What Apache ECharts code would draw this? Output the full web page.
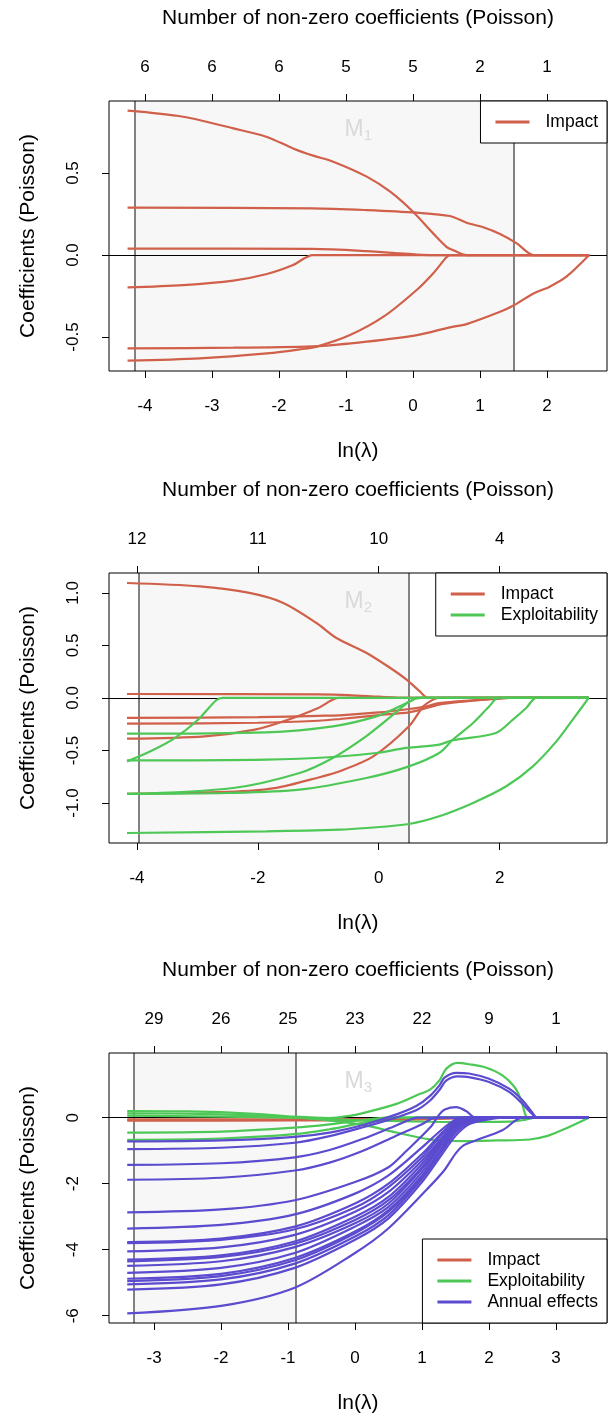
<!DOCTYPE html>
<html>
<head>
<meta charset="utf-8">
<script src="https://cdn.jsdelivr.net/npm/echarts@6/dist/echarts.min.js"></script>
<style>
  html, body { margin: 0; padding: 0; background: #fff; }
  #main { width: 613px; height: 1413px; }
</style>
</head>
<body>
<div id="main"></div>
<script>
const RED = '#d0604a'
const GREEN = '#4dc856'
const PURPLE = '#5b4bcf'
const FONT = '"Liberation Sans", Arial, Helvetica, sans-serif'

// panel 1 (M1) - glmnet paths, [ln(lambda), coefficient]
const xTicks1 = [-4, -3, -2, -1, 0, 1, 2]
const nonZero1 = ['6', '6', '6', '5', '5', '2', '1']
const yTicks1 = [-0.5, 0, 0.5]
const cut1 = [-4.16, 1.51]
const impact1 = [
  [[-4.26,0.88],[-3.43,0.843],[-2.68,0.772],[-2.18,0.72],[-1.79,0.65],[-1.49,0.606],[-1.19,0.569],[-0.69,0.478],[-0.34,0.386],[0.0,0.264],[0.30,0.132],[0.50,0.05],[0.60,0.03],[0.80,0],[2.63,0]],
  [[-4.26,0.289],[-1.5,0.285],[-0.69,0.274],[0.06,0.258],[0.55,0.238],[0.80,0.197],[1.05,0.169],[1.30,0.128],[1.55,0.071],[1.80,0],[2.63,0]],
  [[-4.26,0.039],[-1.5,0.037],[-0.69,0.024],[-0.2,0.01],[0.06,0.003],[0.3,0],[2.63,0]],
  [[-4.26,-0.197],[-3.43,-0.183],[-2.68,-0.156],[-2.18,-0.116],[-1.79,-0.061],[-1.49,0],[2.63,0]],
  [[-4.26,-0.569],[-2.68,-0.565],[-1.41,-0.555],[-0.69,-0.528],[0.06,-0.488],[0.55,-0.441],[0.80,-0.421],[1.30,-0.346],[1.50,-0.308],[1.80,-0.234],[2.04,-0.193],[2.29,-0.132],[2.63,0]],
  [[-4.26,-0.644],[-3.18,-0.63],[-2.18,-0.6],[-1.69,-0.575],[-1.41,-0.555],[-0.94,-0.488],[-0.44,-0.376],[0.055,-0.213],[0.30,-0.112],[0.50,-0.014],[0.55,0],[2.63,0]]
]

// panel 2 (M2)
const xTicks2 = [-4, -2, 0, 2]
const nonZero2 = ['12', '11', '10', '4']
const yTicks2 = [-1, -0.5, 0, 0.5, 1]
const cut2 = [-3.97, 0.50]
const impact2 = [
  [[-4.165,1.095],[-2.96,1.063],[-2.14,1.0],[-1.58,0.905],[-1.03,0.714],[-0.70,0.571],[-0.20,0.429],[0.18,0.29],[0.46,0.175],[0.68,0.063],[0.82,0],[3.474,0]],
  [[-4.165,0.038],[-1.0,0.034],[-0.5,0.028],[0,0.012],[0.45,0],[3.474,0]],
  [[-4.165,-0.19],[-2,-0.182],[-1,-0.17],[-0.644,-0.165],[0,-0.138],[0.5,-0.105],[0.79,-0.08],[1.0,-0.048],[1.56,-0.022],[1.94,-0.01],[2.17,0],[3.474,0]],
  [[-4.165,-0.245],[-2,-0.236],[-1,-0.217],[-0.644,-0.2],[0,-0.163],[0.5,-0.137],[0.74,-0.105],[1.0,-0.063],[1.44,-0.032],[1.88,-0.006],[2.0,0],[3.474,0]],
  [[-4.165,-0.388],[-2.88,-0.366],[-2.05,-0.302],[-1.5,-0.207],[-1.0,-0.095],[-0.66,0],[3.474,0]],
  [[-4.165,-0.914],[-2.5,-0.895],[-1.72,-0.859],[-0.95,-0.75],[-0.644,-0.698],[-0.09,-0.556],[0.5,-0.27],[0.74,-0.079],[0.9,-0.016],[0.98,0],[3.474,0]]
]
const exploit2 = [
  [[-4.165,-0.604],[-3.75,-0.5],[-3.376,-0.382],[-2.99,-0.207],[-2.69,-0.022],[-2.58,0],[3.474,0]],
  [[-4.165,-0.34],[-1.86,-0.327],[-0.76,-0.27],[-0.04,-0.175],[0.35,-0.079],[0.57,-0.016],[0.62,0],[3.474,0]],
  [[-4.165,-0.595],[-1.86,-0.587],[-0.76,-0.562],[-0.04,-0.524],[0.46,-0.476],[1.0,-0.444],[1.22,-0.403],[1.94,-0.333],[2.22,-0.206],[2.44,-0.095],[2.61,0],[3.474,0]],
  [[-4.165,-0.914],[-2.41,-0.857],[-1.31,-0.714],[-0.76,-0.571],[-0.21,-0.365],[0.24,-0.159],[0.51,-0.032],[0.7,0],[3.474,0]],
  [[-4.165,-0.914],[-2.5,-0.905],[-1.31,-0.873],[-0.205,-0.762],[0.5,-0.651],[1.0,-0.524],[1.22,-0.4],[1.56,-0.238],[1.83,-0.079],[1.98,0],[3.474,0]],
  [[-4.165,-1.286],[-1.86,-1.27],[-0.644,-1.254],[-0.205,-1.238],[0.5,-1.2],[1.0,-1.127],[1.56,-1.0],[2.11,-0.841],[2.55,-0.651],[2.94,-0.413],[3.21,-0.206],[3.474,0]]
]

// panel 3 (M3)
const xTicks3 = [-3, -2, -1, 0, 1, 2, 3]
const nonZero3 = ['29', '26', '25', '23', '22', '9', '1']
const yTicks3 = [-6, -4, -2, 0]
const cut3 = [-3.30, -0.886]
const impact3 = [
  [[-3.4,-0.05],[-0.9,-0.05],[0,-0.045],[1,-0.035],[1.5,-0.02],[1.7,0],[3.49,0]],
  [[-3.4,-0.09],[-0.9,-0.085],[0,-0.075],[0.8,-0.06],[1.3,-0.03],[1.6,0],[3.49,0]]
]
const exploit3 = [
  [[-3.4,0.2],[-2.5,0.19],[-1.5,0.12],[-0.9,0.03],[-0.38,-0.01],[-0.1,0.05],[0.12,0.14],[0.62,0.42],[0.92,0.68],[1.12,0.85],[1.26,1.13],[1.36,1.48],[1.53,1.66],[1.7,1.62],[1.95,1.52],[2.2,1.28],[2.38,0.93],[2.48,0.53],[2.53,0.17],[2.58,0],[3.49,0]],
  [[-3.4,0.13],[-2.5,0.12],[-1.5,0.07],[-0.9,0.01],[-0.38,-0.08],[0.12,-0.22],[0.62,-0.45],[1.12,-0.66],[1.61,-0.71],[2.11,-0.69],[2.61,-0.66],[2.86,-0.56],[3.11,-0.36],[3.49,0]],
  [[-3.4,0.06],[-0.9,0.0],[-0.38,-0.05],[0.5,-0.1],[1.5,-0.13],[2.3,-0.12],[2.55,-0.06],[2.7,0],[3.49,0]],
  [[-3.4,-0.45],[-2,-0.42],[-0.9,-0.3],[-0.38,-0.2],[0,-0.1],[0.3,-0.03],[0.45,0],[3.49,0]],
  [[-3.4,-0.67],[-2,-0.63],[-0.9,-0.5],[-0.38,-0.35],[0,-0.2],[0.3,-0.08],[0.5,0],[3.49,0]]
]
const annual3 = [
  [[-3.4,-0.72],[-2,-0.69],[-0.9,-0.58],[-0.38,-0.45],[0.12,-0.22],[0.62,0.1],[0.92,0.36],[1.12,0.66],[1.26,0.98],[1.34,1.22],[1.51,1.36],[1.7,1.34],[2.0,1.18],[2.3,0.88],[2.5,0.53],[2.64,0.17],[2.72,0],[3.49,0]],
  [[-3.4,-0.95],[-2,-0.91],[-0.9,-0.76],[-0.38,-0.56],[0.12,-0.29],[0.62,0.01],[0.92,0.23],[1.12,0.52],[1.26,0.84],[1.36,1.12],[1.53,1.25],[1.7,1.23],[2.0,1.08],[2.3,0.78],[2.5,0.42],[2.64,0.12],[2.72,0],[3.49,0]],
  [[-3.4,-1.43],[-2,-1.38],[-0.9,-1.2],[-0.38,-0.98],[0.12,-0.64],[0.5,-0.33],[0.8,-0.08],[0.92,0],[3.49,0]],
  [[-3.4,-1.88],[-2,-1.82],[-0.9,-1.6],[-0.38,-1.36],[0.12,-1.0],[0.6,-0.56],[1.0,-0.2],[1.2,0],[3.49,0]],
  [[-3.4,-2.87],[-2,-2.78],[-0.9,-2.5],[0,-1.95],[0.5,-1.5],[0.77,-1.0],[1.12,-0.3],[1.26,0.1],[1.34,0.25],[1.51,0.32],[1.66,0.2],[1.8,0],[3.49,0]],
  [[-3.4,-3.36],[-2,-3.25],[-0.9,-2.93],[0,-2.3],[0.5,-1.75],[1.0,-0.9],[1.3,-0.35],[1.5,-0.05],[1.6,0],[3.49,0]],
  [[-3.4,-3.77],[-2,-3.66],[-0.9,-3.3],[0,-2.6],[0.5,-2.0],[1.0,-1.1],[1.3,-0.45],[1.5,-0.1],[1.65,0],[3.49,0]],
  [[-3.4,-3.8],[-2,-3.7],[-0.9,-3.38],[0,-2.72],[0.5,-2.1],[1.0,-1.2],[1.3,-0.5],[1.5,-0.12],[1.7,0],[3.49,0]],
  [[-3.4,-4.05],[-2,-3.93],[-0.9,-3.55],[0,-2.85],[0.5,-2.25],[1.0,-1.3],[1.3,-0.6],[1.5,-0.15],[1.75,0],[3.49,0]],
  [[-3.4,-4.3],[-2,-4.17],[-0.9,-3.75],[0,-3.0],[0.5,-2.4],[1.0,-1.4],[1.3,-0.65],[1.5,-0.2],[1.8,0],[3.49,0]],
  [[-3.4,-4.35],[-2,-4.22],[-0.9,-3.82],[0,-3.1],[0.5,-2.5],[1.0,-1.5],[1.3,-0.7],[1.5,-0.25],[1.85,0],[3.49,0]],
  [[-3.4,-4.49],[-2,-4.35],[-0.9,-3.92],[0,-3.2],[0.5,-2.6],[1.0,-1.55],[1.3,-0.75],[1.5,-0.28],[1.9,0],[3.49,0]],
  [[-3.4,-4.7],[-2,-4.55],[-0.9,-4.1],[0,-3.3],[0.5,-2.7],[1.0,-1.65],[1.3,-0.8],[1.5,-0.3],[1.95,0],[3.49,0]],
  [[-3.4,-4.88],[-2,-4.73],[-0.9,-4.25],[0,-3.45],[0.5,-2.8],[1.0,-1.75],[1.3,-0.9],[1.5,-0.35],[2.0,0],[3.49,0]],
  [[-3.4,-4.95],[-2,-4.8],[-0.9,-4.32],[0,-3.5],[0.5,-2.85],[1.0,-1.8],[1.3,-0.95],[1.5,-0.4],[1.7,-0.1],[2.05,0],[3.49,0]],
  [[-3.4,-5.05],[-2,-4.9],[-0.9,-4.42],[0,-3.6],[0.5,-2.95],[1.0,-1.85],[1.3,-1.0],[1.5,-0.45],[1.7,-0.15],[2.1,0],[3.49,0]],
  [[-3.4,-5.21],[-2,-5.05],[-0.9,-4.55],[0,-3.7],[0.5,-3.05],[1.0,-1.95],[1.3,-1.1],[1.5,-0.55],[1.7,-0.2],[2.0,-0.05],[2.2,0],[3.49,0]],
  [[-3.4,-5.93],[-2,-5.7],[-0.9,-5.15],[0,-4.1],[0.5,-3.35],[1.06,-2.2],[1.33,-1.6],[1.5,-1.09],[1.62,-0.84],[1.8,-0.69],[2.2,-0.38],[2.5,0],[3.49,0]]
]

const panels = [
  { top: 101, xRange: [-4.537, 2.896], yRange: [-0.707, 0.939], xTicks: xTicks1, counts: nonZero1,
    yTicks: yTicks1, digits: 1, cut: cut1, sub: '1', legend: { top: 101 },
    groups: [['Impact', RED, impact1]] },
  { top: 573, xRange: [-4.463, 3.777], yRange: [-1.381, 1.19], xTicks: xTicks2, counts: nonZero2,
    yTicks: yTicks2, digits: 1, cut: cut2, sub: '2', legend: { top: 573 },
    groups: [['Impact', RED, impact2], ['Exploitability', GREEN, exploit2]] },
  { top: 1053, xRange: [-3.672, 3.761], yRange: [-6.22, 1.96], xTicks: xTicks3, counts: nonZero3,
    yTicks: yTicks3, digits: 0, cut: cut3, sub: '3', legend: { bottom: 90 },
    groups: [['Impact', RED, impact3], ['Exploitability', GREEN, exploit3], ['Annual effects', PURPLE, annual3]] }
]
const H = 270

function txt(x, y, text, size, fill, extra) {
  return Object.assign({
    type: 'text', x: x, y: y, z: 50, silent: true,
    style: { text: text, font: size + 'px ' + FONT, fill: fill,
      align: 'center', verticalAlign: 'middle', textAlign: 'center', textVerticalAlign: 'middle' }
  }, extra || {})
}

const option = { animation: false, grid: [], xAxis: [], yAxis: [], series: [], legend: [], graphic: [] }

panels.forEach(function (p, i) {
  option.grid.push({ left: 109, right: 6, top: p.top, height: H, show: true,
    borderColor: '#000', borderWidth: 1, backgroundColor: 'transparent', z: 3 })

  const lab = { fontSize: 17, color: '#000', fontFamily: FONT }
  const tick = { show: true, length: 7, inside: false, lineStyle: { color: '#000', width: 1 } }
  const noLine = { show: false, onZero: false }
  option.xAxis.push({ type: 'value', gridIndex: i, position: 'bottom', min: p.xRange[0], max: p.xRange[1],
    axisLine: noLine, splitLine: { show: false },
    axisTick: Object.assign({ customValues: p.xTicks }, tick),
    axisLabel: Object.assign({ customValues: p.xTicks, margin: 27 }, lab) })
  option.xAxis.push({ type: 'value', gridIndex: i, position: 'top', min: p.xRange[0], max: p.xRange[1],
    axisLine: noLine, splitLine: { show: false },
    axisTick: Object.assign({ customValues: p.xTicks }, tick),
    axisLabel: Object.assign({ customValues: p.xTicks, margin: 25,
      formatter: function (v) { return p.counts[p.xTicks.indexOf(Math.round(v))] } }, lab) })
  option.yAxis.push({ type: 'value', gridIndex: i, position: 'left', min: p.yRange[0], max: p.yRange[1],
    axisLine: noLine, splitLine: { show: false },
    axisTick: Object.assign({ customValues: p.yTicks }, tick),
    axisLabel: Object.assign({ customValues: p.yTicks, rotate: 90, margin: 27,
      formatter: function (v) { return v.toFixed(p.digits) } }, lab) })

  // shaded selection band, cut lines and zero line
  option.series.push({ type: 'line', xAxisIndex: i * 2, yAxisIndex: i, data: [], z: 1, silent: true,
    markArea: { silent: true, z: 1, itemStyle: { color: '#f7f7f7' },
      data: [[{ xAxis: p.cut[0] }, { xAxis: p.cut[1] }]] },
    markLine: { silent: true, z: 1, symbol: ['none', 'none'], label: { show: false },
      data: [
        { xAxis: p.cut[0], lineStyle: { color: '#5a5a5a', width: 1.5, type: 'solid' } },
        { xAxis: p.cut[1], lineStyle: { color: '#5a5a5a', width: 1.5, type: 'solid' } },
        { yAxis: 0, lineStyle: { color: '#000', width: 1, type: 'solid' } }
      ] } })

  p.groups.forEach(function (g) {
    g[2].forEach(function (path) {
      option.series.push({ type: 'line', name: g[0], xAxisIndex: i * 2, yAxisIndex: i, data: path,
        symbol: 'none', showSymbol: false, smooth: 0.3, z: 2, silent: true,
        color: g[1], itemStyle: { color: g[1] }, lineStyle: { color: g[1], width: 2.2 } })
    })
  })

  option.legend.push(Object.assign({
    data: p.groups.map(function (g) { return g[0] }), orient: 'vertical', right: 6,
    backgroundColor: '#fff', borderColor: '#000', borderWidth: 1, borderRadius: 0,
    padding: [12, 9, 12, 15], itemGap: 3, itemWidth: 34, itemHeight: 3, icon: 'rect', selectedMode: false,
    formatter: function (n) { return '{t|' + n + '}' },
    textStyle: { fontSize: 17.5, color: '#000', fontFamily: FONT,
      rich: { t: { fontSize: 17.5, fontFamily: FONT, color: '#000', padding: [0, 0, 0, 11] } } }
  }, p.legend))

  const t = p.top, b = p.top + H
  option.graphic.push(txt(358, t - 82.5, 'Number of non-zero coefficients (Poisson)', 21, '#000'))
  option.graphic.push(txt(358, b + 80, 'ln(\u03bb)', 21, '#000'))
  option.graphic.push(txt(28, t + H / 2, 'Coefficients (Poisson)', 21, '#000', { rotation: Math.PI / 2 }))
  option.graphic.push(txt(354, t + 29, 'M', 23, '#d9d9d9'))
  option.graphic.push(txt(368, t + 35, p.sub, 15, '#d9d9d9'))
})

const chart = echarts.init(document.getElementById('main'), null, { renderer: 'canvas' })
chart.setOption(option)
</script>
</body>
</html>
